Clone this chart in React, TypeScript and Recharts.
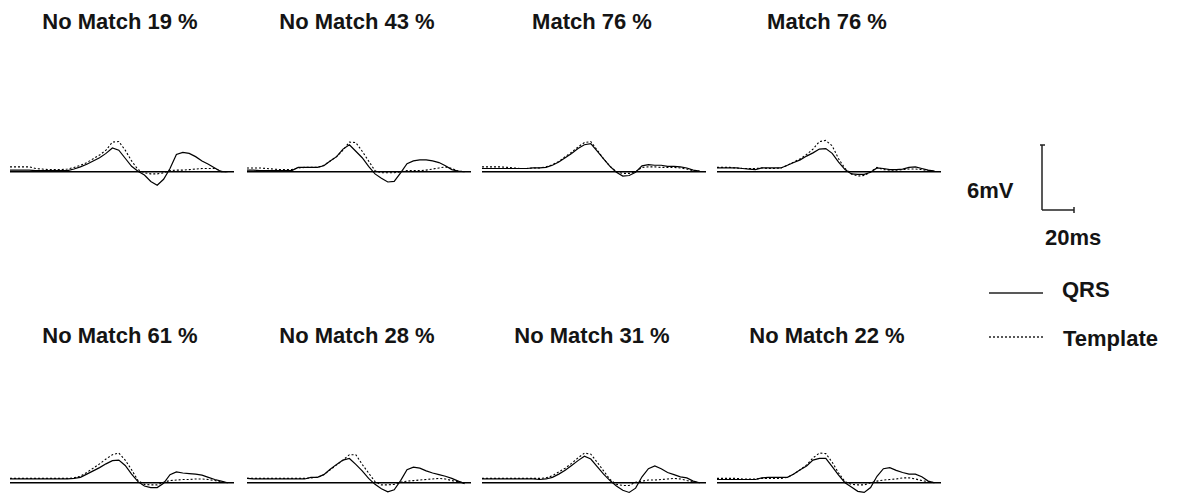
import React from 'react';
import { LineChart, Line, XAxis, YAxis, ReferenceLine } from 'recharts';

// time axis (ms) shared by every beat
const times = [0, 4, 8, 12, 16, 20, 24, 28, 32, 36, 40, 44, 48, 52, 56, 60, 64, 68, 72, 76, 80, 84, 88, 92, 96, 100, 104, 108, 112, 116, 120, 124, 128, 132, 136];

const topTitles = ['No Match 19 %', 'No Match 43 %', 'Match 76 %', 'Match 76 %'];
const bottomTitles = ['No Match 61 %', 'No Match 28 %', 'No Match 31 %', 'No Match 22 %'];

// amplitudes in mV
const qrs1 = [0.15, 0.15, 0.15, 0.15, 0.1, 0.1, 0.1, 0.1, 0.1, 0.1, 0.25, 0.45, 0.7, 1.0, 1.3, 1.7, 2.2, 2.0, 1.25, 0.5, 0.05, -0.3, -0.9, -1.25, -0.7, 0.3, 1.6, 1.8, 1.7, 1.4, 1.0, 0.7, 0.35, 0.0, 0.0];
const tpl1 = [0.45, 0.45, 0.45, 0.45, 0.3, 0.25, 0.2, 0.2, 0.2, 0.25, 0.4, 0.6, 0.85, 1.2, 1.55, 2.0, 2.75, 2.8, 2.0, 1.0, 0.2, -0.1, -0.2, -0.2, -0.1, 0.1, 0.15, 0.15, 0.2, 0.25, 0.3, 0.3, 0.3, 0.05, 0.0];
const qrs2 = [0.15, 0.15, 0.1, 0.1, 0.1, 0.1, 0.1, 0.1, 0.4, 0.4, 0.4, 0.4, 0.55, 1.0, 1.4, 2.1, 2.5, 1.9, 1.3, 0.5, -0.2, -0.6, -0.95, -0.9, -0.1, 0.75, 1.0, 1.1, 1.1, 1.0, 0.85, 0.55, 0.2, 0.05, 0.0];
const tpl2 = [0.35, 0.35, 0.35, 0.3, 0.25, 0.2, 0.2, 0.2, 0.35, 0.4, 0.4, 0.4, 0.6, 1.0, 1.4, 2.0, 2.75, 2.7, 1.9, 1.0, 0.1, -0.1, -0.1, -0.1, 0.0, 0.1, 0.1, 0.1, 0.15, 0.25, 0.35, 0.45, 0.3, 0.05, 0.0];
const qrs3 = [0.3, 0.3, 0.3, 0.3, 0.3, 0.3, 0.3, 0.3, 0.35, 0.35, 0.4, 0.6, 0.9, 1.3, 1.7, 2.15, 2.5, 2.6, 1.9, 1.2, 0.5, -0.05, -0.4, -0.35, -0.05, 0.55, 0.65, 0.6, 0.6, 0.5, 0.5, 0.45, 0.35, 0.15, 0.05];
const tpl3 = [0.45, 0.45, 0.45, 0.45, 0.4, 0.35, 0.3, 0.3, 0.35, 0.35, 0.45, 0.65, 0.95, 1.4, 1.8, 2.3, 2.7, 2.8, 2.0, 1.2, 0.5, 0.0, -0.15, -0.15, 0.0, 0.4, 0.45, 0.45, 0.4, 0.4, 0.4, 0.35, 0.25, 0.1, 0.05];
const qrs4 = [0.35, 0.35, 0.35, 0.35, 0.3, 0.25, 0.2, 0.35, 0.35, 0.35, 0.35, 0.6, 0.85, 1.1, 1.45, 1.75, 2.1, 2.15, 1.7, 0.9, 0.2, -0.2, -0.25, -0.25, -0.05, 0.35, 0.3, 0.2, 0.2, 0.25, 0.4, 0.45, 0.3, 0.15, 0.05];
const tpl4 = [0.4, 0.4, 0.4, 0.35, 0.3, 0.3, 0.3, 0.35, 0.3, 0.3, 0.35, 0.6, 0.9, 1.2, 1.6, 2.1, 2.8, 2.9, 2.4, 1.2, 0.3, -0.2, -0.4, -0.35, 0.0, 0.4, 0.2, 0.15, 0.15, 0.2, 0.25, 0.25, 0.2, 0.1, 0.05];
const qrs5 = [0.35, 0.35, 0.35, 0.35, 0.35, 0.35, 0.35, 0.35, 0.35, 0.35, 0.4, 0.5, 0.8, 1.1, 1.4, 1.75, 2.05, 2.1, 1.6, 0.8, 0.1, -0.3, -0.45, -0.45, -0.05, 0.75, 1.0, 0.9, 0.85, 0.8, 0.7, 0.5, 0.3, 0.15, 0.0];
const tpl5 = [0.4, 0.4, 0.4, 0.4, 0.4, 0.4, 0.4, 0.4, 0.4, 0.4, 0.45, 0.6, 0.95, 1.35, 1.75, 2.2, 2.6, 2.75, 2.1, 1.2, 0.2, -0.15, -0.2, -0.2, 0.05, 0.2, 0.25, 0.3, 0.3, 0.35, 0.35, 0.3, 0.2, 0.1, 0.0];
const qrs6 = [0.4, 0.35, 0.35, 0.35, 0.35, 0.35, 0.35, 0.35, 0.35, 0.35, 0.5, 0.5, 0.75, 1.25, 1.7, 2.1, 2.25, 1.7, 1.1, 0.4, -0.15, -0.55, -0.85, -0.65, 0.2, 1.2, 1.45, 1.35, 1.1, 0.9, 0.75, 0.6, 0.4, 0.15, -0.1];
const tpl6 = [0.4, 0.4, 0.4, 0.4, 0.4, 0.4, 0.4, 0.4, 0.4, 0.4, 0.45, 0.5, 0.75, 1.2, 1.65, 2.1, 2.6, 2.6, 1.7, 0.9, 0.1, -0.2, -0.2, -0.15, 0.05, 0.15, 0.2, 0.25, 0.3, 0.35, 0.4, 0.35, 0.2, 0.1, 0.0];
const qrs7 = [0.35, 0.35, 0.35, 0.35, 0.35, 0.35, 0.35, 0.35, 0.35, 0.3, 0.35, 0.5, 0.8, 1.15, 1.6, 2.05, 2.45, 2.2, 1.5, 0.8, 0.2, -0.3, -0.7, -0.9, -0.5, 0.55, 1.3, 1.55, 1.3, 0.95, 0.75, 0.55, 0.45, 0.15, 0.0];
const tpl7 = [0.4, 0.4, 0.4, 0.4, 0.4, 0.4, 0.4, 0.4, 0.4, 0.4, 0.45, 0.65, 1.0, 1.35, 1.8, 2.3, 2.75, 2.65, 1.9, 1.1, 0.3, -0.15, -0.25, -0.25, 0.05, 0.15, 0.25, 0.25, 0.3, 0.35, 0.4, 0.35, 0.2, 0.1, 0.0];
const qrs8 = [0.3, 0.3, 0.3, 0.3, 0.3, 0.3, 0.3, 0.45, 0.5, 0.5, 0.5, 0.5, 0.8, 1.2, 1.55, 2.1, 2.25, 2.25, 1.5, 0.7, 0.0, -0.4, -0.8, -0.9, -0.45, 0.6, 1.3, 1.4, 1.15, 0.95, 0.8, 0.8, 0.55, 0.15, 0.0];
const tpl8 = [0.4, 0.4, 0.4, 0.4, 0.35, 0.35, 0.35, 0.4, 0.4, 0.4, 0.4, 0.5, 0.8, 1.2, 1.65, 2.3, 2.75, 2.7, 1.9, 0.9, 0.1, -0.15, -0.2, -0.2, 0.0, 0.15, 0.25, 0.3, 0.35, 0.45, 0.45, 0.35, 0.2, 0.1, 0.0];

const topQrs = [qrs1, qrs2, qrs3, qrs4];
const topTpl = [tpl1, tpl2, tpl3, tpl4];
const bottomQrs = [qrs5, qrs6, qrs7, qrs8];
const bottomTpl = [tpl5, tpl6, tpl7, tpl8];

const FONT = '"Liberation Sans", Arial, sans-serif';
const TEXT = '#141414';
const PANEL_W = 224;
const PANEL_H = 82;
const panelLefts = [10, 247, 482, 717];

const buildRows = (qrs: number[], tpl: number[]) =>
  times.map((t, i) => ({ t, qrs: qrs[i], tpl: tpl[i] }));

const Beat = ({ qrs, tpl, left, top }: { qrs: number[]; tpl: number[]; left: number; top: number }) => (
  <div style={{ position: 'absolute', left, top }}>
    <LineChart width={PANEL_W} height={PANEL_H} data={buildRows(qrs, tpl)} margin={{ top: 0, right: 0, bottom: 0, left: 0 }}>
      <XAxis dataKey="t" type="number" domain={[0, 140]} hide />
      <YAxis type="number" domain={[-1.6, 6]} hide />
      <ReferenceLine y={0} stroke="#000" strokeWidth={1.4} />
      <Line type="linear" dataKey="tpl" stroke="#000" strokeWidth={1.1} strokeDasharray="2 2" dot={false} isAnimationActive={false} />
      <Line type="linear" dataKey="qrs" stroke="#000" strokeWidth={1.2} dot={false} isAnimationActive={false} />
    </LineChart>
  </div>
);

export default function App() {
  const textStyle = { fontFamily: FONT, fontWeight: 700, fontSize: 22, fill: TEXT };
  return (
    <div style={{ position: 'fixed', left: 0, top: 0, width: 1197, height: 494, overflow: 'hidden', background: '#fff' }}>
      {panelLefts.map((x, i) => (
        <Beat key={'t' + i} qrs={topQrs[i]} tpl={topTpl[i]} left={x} top={107} />
      ))}
      {panelLefts.map((x, i) => (
        <Beat key={'b' + i} qrs={bottomQrs[i]} tpl={bottomTpl[i]} left={x} top={418} />
      ))}
      <svg width={1197} height={494} style={{ position: 'absolute', left: 0, top: 0, pointerEvents: 'none' }}>
        {topTitles.map((s, i) => (
          <text key={'tt' + i} x={panelLefts[i] + 110} y={29} textAnchor="middle" style={textStyle}>{s}</text>
        ))}
        {bottomTitles.map((s, i) => (
          <text key={'bt' + i} x={panelLefts[i] + 110} y={343} textAnchor="middle" style={textStyle}>{s}</text>
        ))}
        {/* scale bar */}
        <g stroke="#222" strokeWidth={1.5} fill="none">
          <line x1={1042} y1={145} x2={1042} y2={210} />
          <line x1={1040} y1={145} x2={1045} y2={145} />
          <line x1={1042} y1={210} x2={1074} y2={210} />
          <line x1={1074} y1={207} x2={1074} y2={213} />
        </g>
        <text x={967} y={198} style={textStyle}>6mV</text>
        <text x={1045} y={245} style={textStyle}>20ms</text>
        {/* legend */}
        <line x1={989} y1={293} x2={1043} y2={293} stroke="#222" strokeWidth={1.3} />
        <text x={1062} y={297} style={textStyle}>QRS</text>
        <line x1={989} y1={337} x2={1043} y2={337} stroke="#222" strokeWidth={1.3} strokeDasharray="2 2" />
        <text x={1063} y={346} style={textStyle}>Template</text>
      </svg>
    </div>
  );
}
